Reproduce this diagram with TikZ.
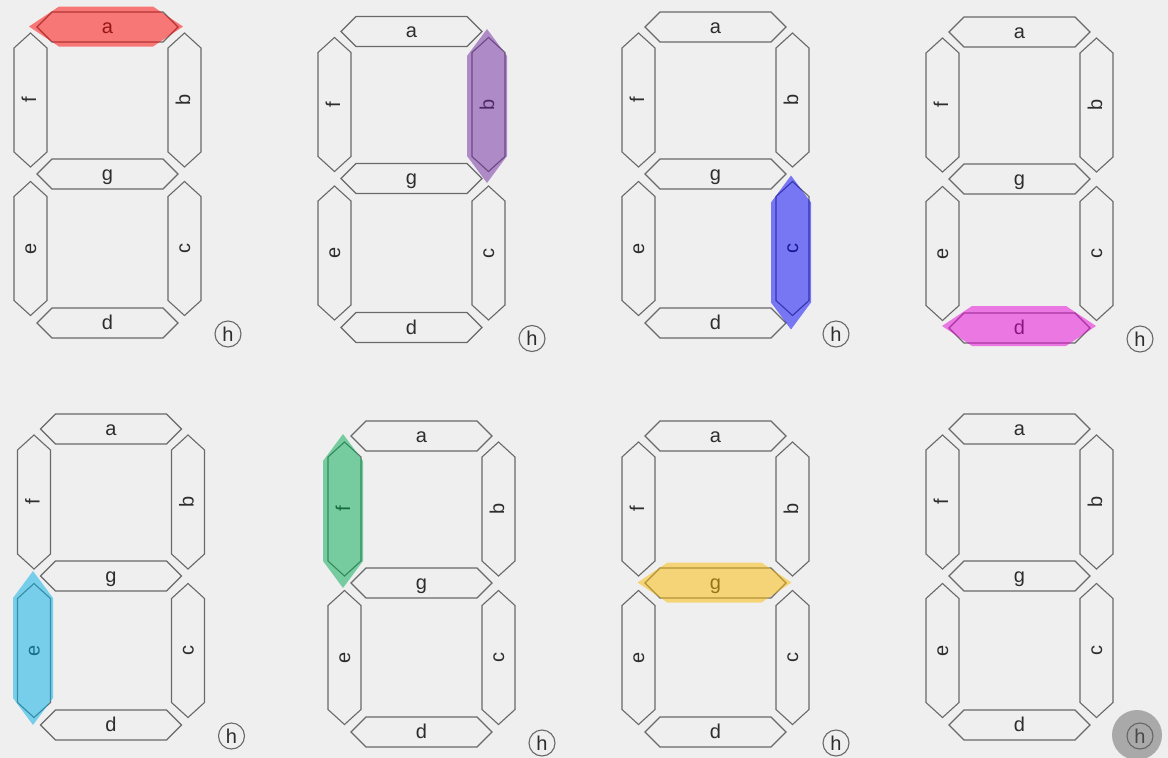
\documentclass[tikz,border=0pt]{standalone}
\usepackage{fontspec}
\setmainfont{Liberation Sans}
\definecolor{bg}{RGB}{239,239,239}
\definecolor{segline}{RGB}{105,105,105}
\definecolor{txt}{RGB}{45,45,45}
\definecolor{hlred}{RGB}{255,0,0}
\definecolor{hlpurple}{RGB}{110,40,160}
\definecolor{hlblue}{RGB}{0,0,250}
\definecolor{hlmagenta}{RGB}{230,0,215}
\definecolor{hlcyan}{RGB}{0,175,230}
\definecolor{hlgreen}{RGB}{0,170,80}
\definecolor{hlyellow}{RGB}{251,187,0}
\definecolor{hlgray}{RGB}{100,100,100}
\tikzset{
  seg/.style={draw=segline, line width=1.1pt, line join=miter},
  lbl/.style={text=txt, font=\fontsize{20}{24}\selectfont, inner sep=0pt, anchor=base},
  hbox/.style={circle, draw=segline, line width=1.1pt, minimum size=26pt, inner sep=0pt, text=txt, font=\fontsize{20}{24}\selectfont},
  hl/.style={fill=#1, fill opacity=0.5, draw=none},
  hdisk/.style={circle, fill=hlgray, fill opacity=0.5, minimum size=50pt, inner sep=0pt},
}
\newcommand\Hseg[2]{\path[seg] (#1-70.5,#2) -- ++(15,-15) -- ++(111,0) -- ++(15,15) -- ++(-15,15) -- ++(-111,0) -- cycle;}
\newcommand\Vseg[2]{\path[seg] (#1,#2-67) -- ++(16.5,15) -- ++(0,104) -- ++(-16.5,15) -- ++(-16.5,-15) -- ++(0,-104) -- cycle;}
\newcommand\Hhl[3]{\path[hl=#3] (#1-77,#2) -- ++(30,-20) -- ++(94,0) -- ++(30,20) -- ++(-30,20) -- ++(-94,0) -- cycle;}
\newcommand\Vhl[3]{\path[hl=#3] (#1,#2-77) -- ++(20,27) -- ++(0,100) -- ++(-20,27) -- ++(-20,-27) -- ++(0,-100) -- cycle;}
\newcommand\Digit[4]{%
\begin{scope}[shift={(#2,#3)}]
\Hseg{107.5}{27}\Hseg{107.5}{174}\Hseg{107.5}{323}
\Vseg{30.5}{100}\Vseg{184.5}{100}\Vseg{30.5}{248.5}\Vseg{184.5}{248.5}
\node[lbl] (a#1) at (107.5,33) {a};
\node[lbl] (g#1) at (107.5,180) {g};
\node[lbl] (d#1) at (107.5,329.5) {d};
\node[lbl,rotate=90] (f#1) at (36,100) {f};
\node[lbl,rotate=90] (b#1) at (190,100) {b};
\node[lbl,rotate=90] (e#1) at (36,248.5) {e};
\node[lbl,rotate=90] (c#1) at (190,248.5) {c};
\node[hbox] (h#1) at (228,334) {h};
#4
\end{scope}}
\begin{document}
\begin{tikzpicture}[x=1pt,y=-1pt]
\useasboundingbox (0,0) rectangle (1168,758);
\fill[bg] (0,0) rectangle (1168,758);
\Digit{1}{0}{0}{\Hhl{106}{26.5}{hlred}}
\Digit{2}{304}{4.5}{\Vhl{183}{101.5}{hlpurple}}
\Digit{3}{608}{0}{\Vhl{183}{252.5}{hlblue}}
\Digit{4}{912}{5}{\Hhl{107}{321}{hlmagenta}}
\Digit{5}{3.5}{402}{\Vhl{29.5}{246}{hlcyan}}
\Digit{6}{314}{409}{\Vhl{29}{102}{hlgreen}}
\Digit{7}{608}{409}{\Hhl{106.5}{173.5}{hlyellow}}
\Digit{8}{912}{402}{\node[hdisk] (disk8) at (225,333) {};}
\end{tikzpicture}
\end{document}
